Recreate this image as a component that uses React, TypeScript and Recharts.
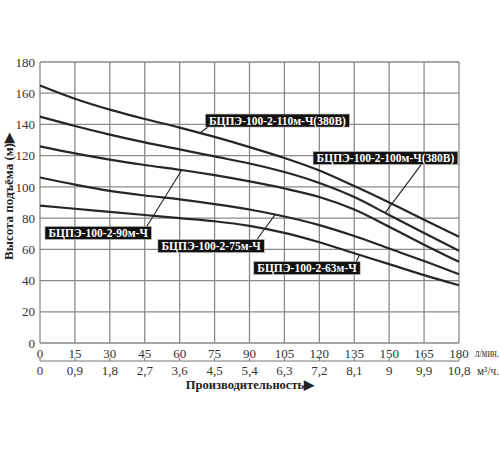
import { LineChart, Line, XAxis, YAxis, CartesianGrid, ReferenceLine, ReferenceDot } from "recharts";

// flow, l/min
const flow = [0, 15, 30, 45, 60, 75, 90, 105, 120, 135, 150, 165, 180];
// same points in m3/h
const flowM3 = ["0", "0,9", "1,8", "2,7", "3,6", "4,5", "5,4", "6,3", "7,2", "8,1", "9", "9,9", "10,8"];
const headTicks = [0, 20, 40, 60, 80, 100, 120, 140, 160, 180];

// head, m
const head110 = [165, 156.5, 149.5, 143.5, 138, 132, 125.5, 118.5, 110.5, 100.5, 90, 79, 68];
const head100 = [145, 139, 133.5, 128.5, 124, 119.5, 115, 109.5, 102.5, 93.5, 82, 70.5, 59];
const head90 = [126, 121.5, 117.5, 114, 111, 107.5, 103.5, 99, 93.5, 85.5, 74.5, 63, 52];
const head75 = [106, 101.5, 97.5, 94.5, 92, 89, 85.5, 81, 75.5, 68.5, 60.5, 52.5, 44];
const head63 = [88, 86, 84, 82, 80, 78, 75, 70.5, 64.5, 57.5, 50.5, 43.5, 37];

const series = [
  { key: "h110", values: head110 },
  { key: "h100", values: head100 },
  { key: "h90", values: head90 },
  { key: "h75", values: head75 },
  { key: "h63", values: head63 },
];

// model tags: box centre and leader line, in chart units
const tags = [
  { text: "БЦПЭ-100-2-110м-Ч(380В)", x: 102, y: 142.5, from: [72.2, 138.4], to: [68.7, 134.5] },
  { text: "БЦПЭ-100-2-100м-Ч(380В)", x: 148.4, y: 118.5, from: [164, 114.7], to: [148.2, 83.2] },
  { text: "БЦПЭ-100-2-90м-Ч", x: 25, y: 70.5, from: [45.8, 74.5], to: [60.9, 110.8] },
  { text: "БЦПЭ-100-2-75м-Ч", x: 73.5, y: 62.1, from: [92.8, 65.5], to: [101, 82.2] },
  { text: "БЦПЭ-100-2-63м-Ч", x: 114.7, y: 48, from: [135.8, 51.9], to: [137.3, 56.5] },
];

const rows = flow.map((q, i) => {
  const row: Record<string, number> = { q };
  for (const s of series) row[s.key] = s.values[i];
  return row;
});

const SERIF = "'Liberation Serif', 'Times New Roman', serif";
const TAG_FONT = `bold 11.5px ${SERIF}`;

let ctx: CanvasRenderingContext2D | null = null;
function textWidth(text: string) {
  if (!ctx) ctx = document.createElement("canvas").getContext("2d");
  if (!ctx) return text.length * 6;
  ctx.font = TAG_FONT;
  return ctx.measureText(text).width;
}

function TagBox(props: any) {
  const { cx, cy, text } = props;
  const w = textWidth(text) + 7;
  const h = 13;
  return (
    <g>
      <rect x={cx - w / 2} y={cy - h / 2} width={w} height={h} fill="#111" stroke="#bbb" strokeWidth={0.6} />
      <text x={cx} y={cy + 4} textAnchor="middle" fill="#fff" style={{ font: TAG_FONT }}>
        {text}
      </text>
    </g>
  );
}

function FlowTick(props: any) {
  const { x, y, payload } = props;
  return (
    <text x={x} y={y + 14.5} textAnchor="middle" fill="#333" fontFamily={SERIF} fontSize={13}>
      {payload.value}
    </text>
  );
}

function M3Tick(props: any) {
  const { x, y, payload } = props;
  const idx = flow.indexOf(payload.value);
  return (
    <g>
      <line x1={x} x2={x} y1={y - 3} y2={y} stroke="#777" strokeWidth={1} />
      <text x={x} y={y + 13.5} textAnchor="middle" fill="#333" fontFamily={SERIF} fontSize={13}>
        {idx >= 0 ? flowM3[idx] : ""}
      </text>
    </g>
  );
}

export default function App() {
  return (
    <div style={{ position: "absolute", left: 0, top: 0, background: "#fff" }}>
      <LineChart width={500} height={450} data={rows} margin={{ top: 62, right: 41, left: 0, bottom: 69 }}>
        <CartesianGrid stroke="#8a8a8a" strokeWidth={1.3} />
        <XAxis
          dataKey="q"
          type="number"
          domain={[0, 180]}
          ticks={flow}
          interval={0}
          height={18}
          axisLine={false}
          tickLine={false}
          tickSize={0}
          tickMargin={0}
          tick={<FlowTick />}
          label={{
            content: ({ viewBox }: any) => (
              <text
                x={viewBox.x + viewBox.width + 16}
                y={viewBox.y + 14}
                fill="#333"
                fontFamily={SERIF}
                fontSize={12}
                textLength={24}
                lengthAdjust="spacingAndGlyphs"
              >
                л/мин.
              </text>
            ),
          }}
        />
        <XAxis
          xAxisId="m3"
          dataKey="q"
          type="number"
          domain={[0, 180]}
          ticks={flow}
          interval={0}
          height={20}
          axisLine={{ stroke: "#777", strokeWidth: 1 }}
          tickLine={false}
          tickSize={0}
          tickMargin={0}
          tick={<M3Tick />}
          label={{
            content: ({ viewBox }: any) => (
              <g>
                <text
                  x={viewBox.x + viewBox.width + 18}
                  y={viewBox.y + 13.5}
                  fill="#333"
                  fontFamily={SERIF}
                  fontSize={12}
                  textLength={22}
                  lengthAdjust="spacingAndGlyphs"
                >
                  м³/ч.
                </text>
                <text
                  x={viewBox.x + viewBox.width / 2 + 0.5}
                  y={viewBox.y + 27.5}
                  textAnchor="middle"
                  fill="#222"
                  fontFamily={SERIF}
                  fontSize={12.5}
                  fontWeight="bold"
                >
                  Производительность▶
                </text>
              </g>
            ),
          }}
        />
        <YAxis
          type="number"
          domain={[0, 180]}
          ticks={headTicks}
          interval={0}
          width={40}
          axisLine={false}
          tickLine={false}
          tickSize={0}
          tickMargin={5}
          tick={{ fill: "#333", fontSize: 13, fontFamily: SERIF }}
          label={{
            content: ({ viewBox }: any) => {
              const cx = viewBox.x + 8;
              const cy = viewBox.y + viewBox.height / 2 - 6;
              return (
                <text
                  x={cx}
                  y={cy}
                  transform={`rotate(-90 ${cx} ${cy})`}
                  textAnchor="middle"
                  dominantBaseline="central"
                  fill="#222"
                  fontFamily={SERIF}
                  fontSize={13}
                  fontWeight="bold"
                >
                  Высота подъёма (м)▶
                </text>
              );
            },
          }}
        />
        {series.map((s) => (
          <Line
            key={s.key}
            type="monotone"
            dataKey={s.key}
            stroke="#262626"
            strokeWidth={2.2}
            dot={false}
            activeDot={false}
            isAnimationActive={false}
          />
        ))}
        {tags.map((t) => (
          <ReferenceLine
            key={"l" + t.text}
            segment={[
              { x: t.from[0], y: t.from[1] },
              { x: t.to[0], y: t.to[1] },
            ]}
            stroke="#222"
            strokeWidth={1.1}
          />
        ))}
        {tags.map((t) => (
          <ReferenceDot
            key={"b" + t.text}
            x={t.x}
            y={t.y}
            r={0}
            shape={(p: any) => <TagBox {...p} text={t.text} />}
          />
        ))}
      </LineChart>
    </div>
  );
}
